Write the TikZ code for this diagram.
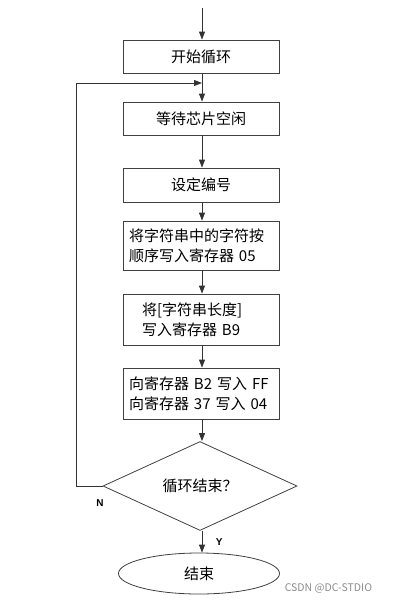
\documentclass[tikz,border=0pt]{standalone}
\usepackage{fontspec}
\setmainfont{Noto Sans CJK SC}
\newfontfamily\latinsf{Liberation Sans}
\usetikzlibrary{arrows.meta,shapes.geometric}

\begin{document}
\begin{tikzpicture}[x=1pt, y=-1pt, font=\fontsize{15}{20}\selectfont,
    line width=0.9pt, draw=black!80,
    >={Triangle[length=8pt,width=6pt]},
    procbox/.style={draw=black!75, line width=0.8pt, minimum width=156pt, inner sep=0pt},
    textbox/.style={procbox, text width=144pt, align=left, inner xsep=6pt, inner ysep=0pt},
    yesno/.style={font=\latinsf\bfseries\fontsize{10}{12}\selectfont}]

  \useasboundingbox (0,0) rectangle (402,604);

  % entry and boxes
  \coordinate (start) at (202,8);
  \node[procbox, minimum height=33pt] (loopstart) at (201,56.5) {开始循环};
  \node[procbox, minimum height=33pt] (waitchip)  at (201,118.5) {等待芯片空闲};
  \node[procbox, minimum height=34pt] (setnum)    at (201,185) {设定编号};
  \node[textbox, minimum height=49pt] (writestr)  at (201,245.5)
      {将字符串中的字符按\\顺序写入寄存器 05};
  \node[textbox, minimum height=51pt] (writelen)  at (201,319.5)
      {\hspace*{13pt}将[字符串长度]\\\hspace*{13pt}写入寄存器 B9};
  \node[textbox, minimum height=51pt] (writereg)  at (201,393.5)
      {向寄存器 B2 写入 FF\\向寄存器 37 写入 04};

  % decision and end
  \node[draw=black!75, line width=0.8pt, diamond, inner sep=0pt,
        minimum width=194pt, minimum height=67pt] (loopend) at (200,486) {循环结束？};
  \node[draw=black!75, line width=0.8pt, ellipse, inner sep=0pt,
        minimum width=161pt, minimum height=41pt] (finish) at (199,573.5) {结束};

  % main flow
  \coordinate (join) at (202,83);
  \draw[->] (start) -- (start |- loopstart.north);
  \draw[->] (join |- loopstart.south) -- (join |- waitchip.north);
  \draw[->] (join |- waitchip.south) -- (join |- setnum.north);
  \draw[->] (join |- setnum.south) -- (join |- writestr.north);
  \draw[->] (join |- writestr.south) -- (join |- writelen.north);
  \draw[->] (join |- writelen.south) -- (join |- writereg.north);
  \draw[->] (join |- writereg.south) -- (join |- loopend.north);
  \draw[->] (join |- loopend.south) -- (join |- finish.north)
      node[yesno, pos=0.5, right=10pt] (yes) {Y};

  % loop back
  \coordinate (back) at (76,486);
  \draw[->] (loopend.west) -- (back) |- (join);
  \node[yesno] (no) at (100,503) {N};

  % watermark
  \node[text=black!45, font=\fontsize{10.5}{12}\selectfont, anchor=west]
      (mark) at (281,588) {CSDN @DC-STDIO};

\end{tikzpicture}
\end{document}
